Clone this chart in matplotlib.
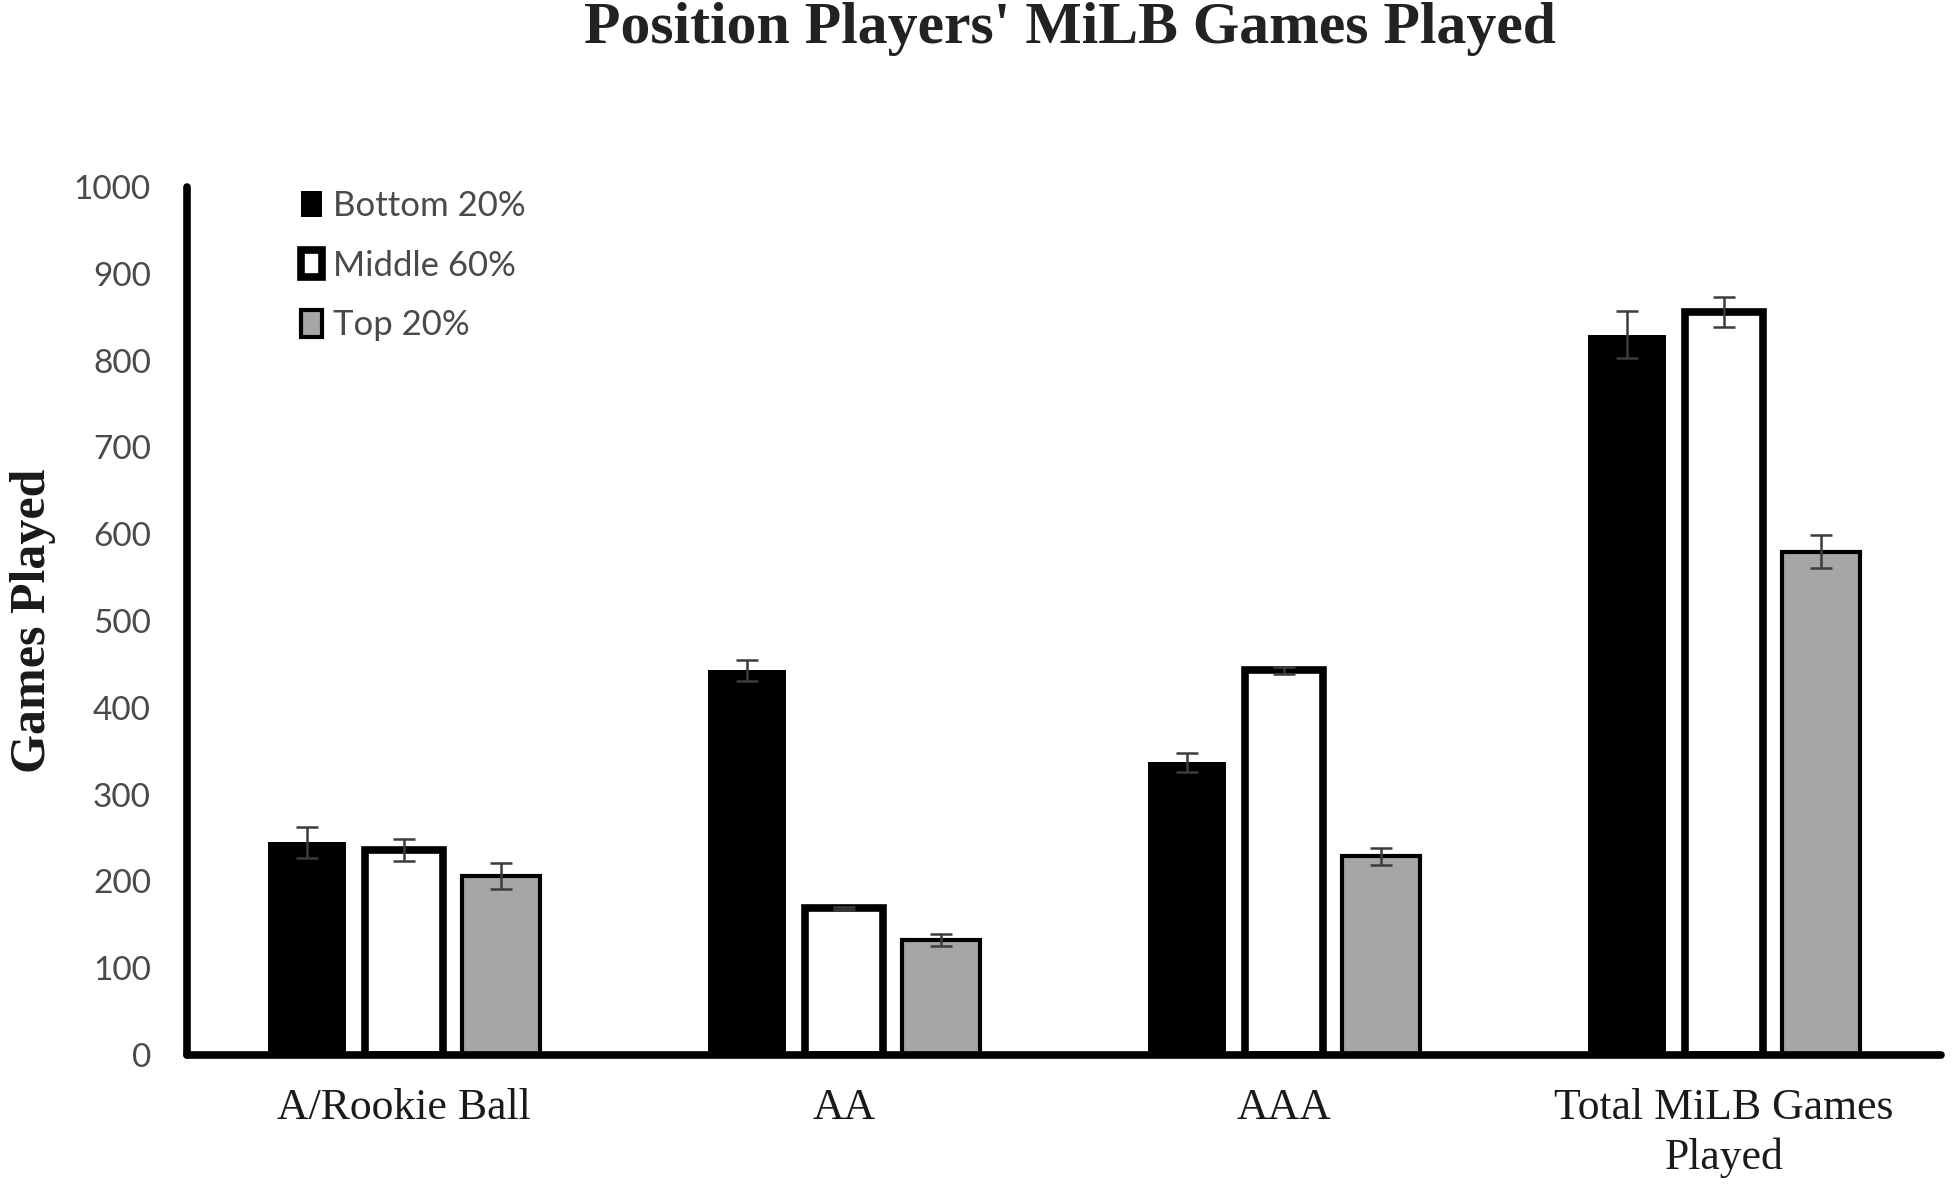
import numpy as np
import matplotlib.pyplot as plt

# values
categories = ["A/Rookie Ball", "AA", "AAA", "Total MiLB Games\nPlayed"]
groups = ["Bottom 20%", "Middle 60%", "Top 20%"]
bottom20 = [245, 443, 337, 830]
middle60 = [236, 169, 443, 856]
top20 = [206, 132, 229, 580]
bottom20_err = [18, 12, 11, 27]
middle60_err = [13, 2, 4, 17]
top20_err = [15, 7, 10, 19]
y_ticks = list(range(0, 1001, 100))

serif = ["Liberation Serif", "DejaVu Serif"]
sans = ["Lato", "DejaVu Sans"]

fig = plt.figure(figsize=(19.54, 11.88), dpi=100)
ax = fig.add_axes([0.0957, 0.112, 0.8976, 0.7306])

x = np.arange(len(categories))
w = 0.178
step = 0.221
styles = [
    dict(color="black", edgecolor="black", linewidth=0),
    dict(color="white", edgecolor="black", linewidth=5.5),
    dict(color="#a6a6a6", edgecolor="black", linewidth=3.0),
]
values = [bottom20, middle60, top20]
errors = [bottom20_err, middle60_err, top20_err]

handles = []
for i, (vals, errs, st) in enumerate(zip(values, errors, styles)):
    pos = x + (i - 1) * step
    b = ax.bar(pos, vals, w, label=groups[i], zorder=2, **st)
    handles.append(b)
    ax.errorbar(pos, vals, yerr=errs, fmt="none", ecolor="#3c3c3c",
                elinewidth=1.8, capsize=8, capthick=1.8, zorder=3)

ax.set_xlim(-0.493, 3.493)
ax.set_ylim(0, 1000)
ax.set_yticks(y_ticks)
ax.set_xticks(x)
ax.set_xticklabels(categories, fontsize=31.5, family=serif, color="#1a1a1a",
                   linespacing=1.3)
for lab in ax.get_yticklabels():
    lab.set_family(sans)
ax.tick_params(axis="y", length=0, pad=26, labelsize=24, labelcolor="#4a4a4a")
ax.tick_params(axis="x", length=0, pad=24)

for s in ["top", "right"]:
    ax.spines[s].set_visible(False)
for s in ["left", "bottom"]:
    ax.spines[s].set_linewidth(5.5)
    ax.spines[s].set_color("black")
    ax.spines[s].set_capstyle("round")

ax.set_ylabel("Games Played", fontsize=36, fontweight="bold", family=serif,
              color="#1a1a1a")
ax.yaxis.set_label_coords(-0.0747, 0.5)

fig.text(0.5476, 1 - 29 / 1188, "Position Players' MiLB Games Played",
         ha="center", va="center", fontsize=43, fontweight="bold",
         family=serif, color="#222222")

leg = ax.legend(handles=handles, loc="upper left",
                bbox_to_anchor=(287 / 1954, 1 - 176 / 1188),
                bbox_transform=fig.transFigure, frameon=False,
                prop={"family": sans, "size": 25}, labelcolor="#4a4a4a",
                handlelength=0.62, handleheight=0.8, handletextpad=0.3,
                labelspacing=0.8, borderaxespad=0)

fig.savefig("out.png", dpi=100, facecolor="white")
